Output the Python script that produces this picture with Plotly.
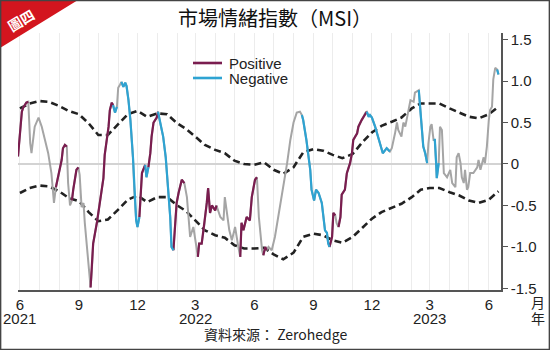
import pandas as pd
import plotly.graph_objects as go

# ---------------- data ----------------
# MSI: days since 2021-06-01, value, regime (P=positive, N=negative, G=neutral)
msi_day = [
    -3, 0, 3, 5, 10, 13, 16, 18, 21, 23,
    29, 34, 39, 44, 49, 53, 56, 60, 65, 67,
    70, 73, 75, 78, 81, 83, 88, 91, 93, 96,
    99, 101, 106, 110, 112, 114, 120, 125, 130, 132,
    138, 140, 143, 145, 148, 151, 153, 156, 158, 161,
    164, 166, 169, 172, 176, 178, 181, 183, 186, 187,
    190, 195, 197, 200, 203, 205, 208, 213, 215, 218,
    223, 227, 231, 234, 236, 239, 241, 244, 247, 252,
    256, 260, 265, 270, 274, 277, 279, 283, 287, 291,
    293, 296, 299, 304, 306, 312, 317, 319, 322, 326,
    330, 335, 340, 343, 345, 348, 353, 358, 361, 366,
    369, 372, 377, 379, 382, 384, 387, 392, 397, 402,
    408, 413, 416, 421, 426, 431, 436, 439, 441, 446,
    449, 452, 454, 458, 461, 465, 470, 473, 475, 478,
    480, 482, 486, 488, 491, 493, 496, 499, 501, 506,
    509, 514, 517, 519, 525, 527, 532, 535, 538, 540,
    543, 545, 548, 553, 556, 561, 565, 569, 571, 576,
    579, 584, 587, 589, 594, 597, 600, 605, 608, 613,
    615, 621, 622, 625, 628, 631, 634, 636, 639, 641,
    644, 646, 648, 649, 652, 654, 657, 660, 665, 670,
    673, 678, 680, 683, 686, 688, 691, 693, 696, 698,
    701, 706, 712, 714, 717, 722, 724, 727, 730, 732,
    735, 737, 740, 743, 745,
]
msi_val = [
    0.09, 0.35, 0.63, 0.68, 0.74, 0.75, 0.25, 0.13, 0.29, 0.45,
    0.56, 0.45, 0.29, 0.13, -0.11, -0.47, -0.28, -0.15, 0.05, 0.19,
    0.23, 0.21, -0.23, -0.50, -0.44, -0.31, -0.07, -0.04, -0.13, -0.52,
    -0.47, -0.71, -1.12, -1.49, -1.28, -0.96, -0.70, -0.44, -0.17, 0.11,
    0.45, 0.65, 0.74, 0.71, 0.62, 0.69, 0.92, 0.96, 0.99, 0.93,
    0.98, 0.94, 0.77, 0.53, 0.08, -0.31, -0.68, -0.76, -0.64, -0.52,
    -0.11, -0.01, -0.16, -0.04, 0.13, 0.33, 0.50, 0.56, 0.63, 0.51,
    0.33, 0.08, -0.28, -0.64, -1.00, -1.04, -0.80, -0.47, -0.35, -0.19,
    -0.23, -0.40, -0.88, -0.76, -0.96, -1.12, -0.96, -0.96, -0.74, -0.47,
    -0.29, -0.59, -0.50, -0.56, -0.50, -0.64, -0.68, -0.40, -0.56, -0.80,
    -0.92, -0.76, -1.00, -1.12, -0.71, -0.80, -0.64, -0.68, -0.40, -0.19,
    -0.16, -0.64, -1.04, -1.10, -1.00, -1.04, -1.00, -1.04, -0.88, -0.64,
    -0.40, -0.16, 0.01, 0.29, 0.50, 0.62, 0.63, 0.59, 0.53, 0.29,
    0.08, -0.07, -0.31, -0.44, -0.31, -0.35, -0.47, -0.64, -0.80, -0.83,
    -0.96, -1.00, -0.88, -0.59, -0.62, -0.71, -0.76, -0.64, -0.37, -0.31,
    -0.11, 0.01, 0.13, 0.29, 0.37, 0.45, 0.53, 0.57, 0.62, 0.63,
    0.57, 0.59, 0.56, 0.45, 0.37, 0.25, 0.13, 0.17, 0.19, 0.15,
    0.19, 0.37, 0.50, 0.41, 0.33, 0.50, 0.45, 0.65, 0.77, 0.75,
    0.86, 0.89, 0.81, 0.50, 0.21, 0.13, 0.01, 0.25, 0.45, 0.48,
    0.29, 0.29, 0.01, -0.17, 0.01, 0.45, 0.41, -0.11, -0.16, -0.07,
    -0.23, -0.28, 0.08, 0.13, 0.01, -0.16, -0.23, -0.07, -0.31, -0.28,
    -0.11, -0.11, -0.04, 0.05, -0.07, 0.08, 0.01, 0.21, 0.53, 0.65,
    0.69, 1.02, 1.16, 1.14, 1.08,
]
msi_state = (
    "PPPPPPGGGG GGGGGGGPPP PPGGGPPPGG GGGGPPPPPP PPPPNNGGGN "
    "NNNNNNNNNP PPNNPPPPPN NNNNNNPPPP PGGGGGPPPP PPPPPGGGGG "
    "GGGGPPPPPP PGGGPPGGGG GGGGGGGGNN NNNNNNNNNN NNPPPGGPPP "
    "PPPPPPPPPP NNNNNNNNNN GGGGGGGGGG GGNNNNNGGG GNNNNGGGGG "
    "GGGGGGGGGG GGGGGGGGGG GGGGN"
).replace(" ", "")

band_dates = [
    "2021-06-01", "2021-06-16", "2021-07-01", "2021-07-16", "2021-08-01",
    "2021-08-16", "2021-09-01", "2021-09-16", "2021-10-01", "2021-10-16",
    "2021-11-01", "2021-11-16", "2021-12-01", "2021-12-16", "2022-01-01",
    "2022-01-16", "2022-02-01", "2022-02-15", "2022-03-01", "2022-03-16",
    "2022-04-01", "2022-04-16", "2022-05-01", "2022-05-16", "2022-06-01",
    "2022-06-16", "2022-07-01", "2022-07-16", "2022-08-01", "2022-08-16",
    "2022-09-01", "2022-09-16", "2022-10-01", "2022-10-16", "2022-11-01",
    "2022-11-16", "2022-12-01", "2022-12-16", "2023-01-01", "2023-01-16",
    "2023-02-01", "2023-02-15", "2023-03-01", "2023-03-16", "2023-04-01",
    "2023-04-16", "2023-05-01", "2023-05-16", "2023-06-01", "2023-06-16",
]
band_upper = [
    0.67, 0.73, 0.76, 0.75, 0.70, 0.64, 0.60, 0.49, 0.35, 0.35,
    0.48, 0.60, 0.64, 0.57, 0.61, 0.60, 0.49, 0.42, 0.33, 0.23,
    0.17, 0.13, 0.04, 0.00, -0.01, 0.02, -0.07, -0.12, -0.04, 0.14,
    0.18, 0.16, 0.11, 0.07, 0.12, 0.26, 0.38, 0.46, 0.51, 0.56,
    0.67, 0.73, 0.73, 0.73, 0.67, 0.62, 0.57, 0.55, 0.60, 0.69,
]
band_lower = [
    -0.35, -0.29, -0.26, -0.27, -0.33, -0.41, -0.45, -0.58, -0.69, -0.67,
    -0.55, -0.43, -0.38, -0.46, -0.40, -0.40, -0.50, -0.57, -0.68, -0.80,
    -0.86, -0.89, -0.98, -1.02, -1.02, -1.01, -1.09, -1.15, -1.07, -0.88,
    -0.84, -0.86, -0.92, -0.95, -0.88, -0.77, -0.66, -0.58, -0.53, -0.48,
    -0.40, -0.31, -0.29, -0.29, -0.34, -0.38, -0.44, -0.47, -0.43, -0.33,
]

tick_dates = pd.date_range("2021-06-01", "2023-06-01", freq="MS")
month_labels = {
    "2021-06": "6", "2021-09": "9", "2021-12": "12",
    "2022-03": "3", "2022-06": "6", "2022-09": "9", "2022-12": "12",
    "2023-03": "3", "2023-06": "6",
}
year_labels = {"2021-06-01": "2021", "2022-03-01": "2022", "2023-03-01": "2023"}
y_ticks = [-1.5, -1.0, -0.5, 0, 0.5, 1.0, 1.5]
y_labels = ["-1.5", "-1.0", "-0.5", "0", "0.5", "1.0", "1.5"]
legend_names = ["Positive", "Negative"]

# ---------------- build ----------------
base = pd.Timestamp("2021-06-01")
msi_dates = [base + pd.Timedelta(days=d) for d in msi_day]

C_POS = "#7a1d4f"
C_NEG = "#2ea3d2"
C_GRAY = "#a5a5a5"
CJK = "Noto Sans CJK TC"
LAT = "Liberation Sans, Arial, sans-serif"


def segments(state):
    xs, ys = [], []
    last = None
    for i in range(1, len(msi_val)):
        if msi_state[i] == state:
            if last != i - 1:
                if xs:
                    xs.append(None)
                    ys.append(None)
                xs.append(msi_dates[i - 1])
                ys.append(msi_val[i - 1])
            xs.append(msi_dates[i])
            ys.append(msi_val[i])
            last = i
    return xs, ys


fig = go.Figure()
fig.add_trace(go.Scatter(x=band_dates, y=band_upper, mode="lines", showlegend=False,
                         line=dict(color="#222222", width=2.6, dash="7px,4px")))
fig.add_trace(go.Scatter(x=band_dates, y=band_lower, mode="lines", showlegend=False,
                         line=dict(color="#222222", width=2.6, dash="7px,4px")))
fig.add_trace(go.Scatter(x=msi_dates, y=msi_val, mode="lines", showlegend=False,
                         line=dict(color=C_GRAY, width=2)))
px_, py_ = segments("P")
fig.add_trace(go.Scatter(x=px_, y=py_, mode="lines", name=legend_names[0], showlegend=False,
                         line=dict(color=C_POS, width=2.2)))
nx_, ny_ = segments("N")
fig.add_trace(go.Scatter(x=nx_, y=ny_, mode="lines", name=legend_names[1], showlegend=False,
                         line=dict(color=C_NEG, width=2.2)))

ticktext = [month_labels.get(d.strftime("%Y-%m"), "") for d in tick_dates]

fig.update_layout(
    width=550, height=350,
    margin=dict(l=18, r=49, t=33, b=60, autoexpand=False),
    paper_bgcolor="white", plot_bgcolor="white",
    font=dict(family=LAT, color="#222222"),
    showlegend=False,
    xaxis=dict(type="date", range=["2021-05-29", "2023-06-20"], automargin=False,
               tickvals=tick_dates, ticktext=ticktext, ticks="",
               showgrid=True, gridcolor="#ececec", gridwidth=1,
               showline=True, linecolor="#555555", linewidth=1.5,
               tickfont=dict(size=15, family=LAT, color="#222")),
    yaxis=dict(side="right", range=[-1.52, 1.58], automargin=False,
               tickvals=y_ticks, ticktext=y_labels,
               ticks="outside", ticklen=5, tickcolor="#555555", tickwidth=1.2,
               showline=True, linecolor="#555555", linewidth=1.5,
               showgrid=False, zeroline=True, zerolinecolor="#d3d3d3", zerolinewidth=1.5,
               tickfont=dict(size=15, family=LAT, color="#222")),
)

W, H = 483.0, 257.0
def px2x(p): return (p - 18) / W
def py2y(p): return (290 - p) / H


def note(text, x, y, size, family, color="#222", xref="paper", xanchor="center", angle=0):
    fig.add_annotation(text=text, xref=xref, yref="paper", x=x, y=y, showarrow=False,
                       xanchor=xanchor, yanchor="middle", textangle=angle,
                       font=dict(size=size, family=family, color=color))


fig.add_shape(type="path", xref="paper", yref="paper",
              path=f"M {px2x(0)},{py2y(0)} L {px2x(78)},{py2y(0)} L {px2x(0)},{py2y(48)} Z",
              fillcolor="#d3151e", line=dict(width=0), layer="above")
fig.add_shape(type="rect", xref="paper", yref="paper",
              x0=px2x(0.6), x1=px2x(549.4), y0=py2y(349.4), y1=py2y(0.6),
              line=dict(color="#444444", width=1.5), layer="above")

# legend (drawn manually for tight spacing)
for name, col, yy in [(legend_names[0], C_POS, 63), (legend_names[1], C_NEG, 78)]:
    fig.add_shape(type="line", xref="paper", yref="paper",
                  x0=px2x(193), x1=px2x(222), y0=py2y(yy), y1=py2y(yy),
                  line=dict(color=col, width=2.6), layer="above")
    note(name, px2x(227), py2y(yy), 15, LAT, xanchor="left")

# year labels under the month ticks
for d, yl in year_labels.items():
    note(yl, d, py2y(318), 15, LAT, xref="x")

note("市場情緒指數（MSI）", px2x(275), py2y(18), 20, CJK, color="#111")
note("<b>圖四</b>", px2x(21), py2y(20), 14, CJK, color="white", angle=-31)
note("資料來源： Zerohedge", px2x(275), py2y(334), 14, CJK)
note("月", px2x(538), py2y(302), 14, CJK)
note("年", px2x(538), py2y(318), 14, CJK)

fig.write_html("out.html")
